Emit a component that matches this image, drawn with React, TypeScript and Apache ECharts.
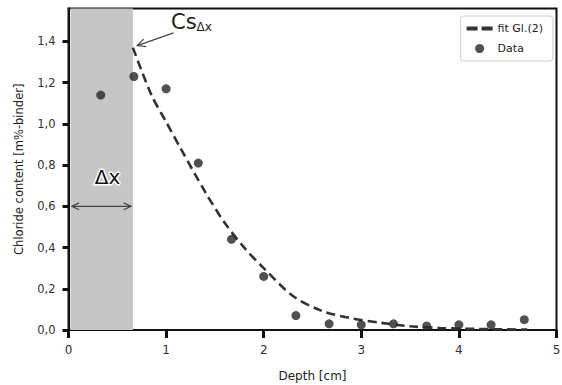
import React, { useEffect, useRef } from "react";
import * as echarts from "echarts";

const dataX = [0.33, 0.67, 1.0, 1.33, 1.67, 2.0, 2.33, 2.67, 3.0, 3.33, 3.67, 4.0, 4.33, 4.67];
const dataY = [1.14, 1.23, 1.17, 0.81, 0.44, 0.26, 0.07, 0.03, 0.025, 0.03, 0.02, 0.025, 0.025, 0.05];

const fitX = [0.66, 0.85, 1.0, 1.15, 1.4, 1.6, 1.8, 2.0, 2.3, 2.6, 2.9, 3.2, 3.5, 3.8, 4.2, 4.7];
const fitY = [1.37, 1.14, 1.01, 0.88, 0.67, 0.52, 0.4, 0.3, 0.165, 0.092, 0.057, 0.035, 0.018, 0.01, 0.005, 0.002];

const yTicks = [0, 0.2, 0.4, 0.6, 0.8, 1.0, 1.2, 1.4];
const xMax = 5;
const bandEnd = 0.66;

const FONT = "DejaVu Sans";

export default function App() {
  const ref = useRef<HTMLDivElement>(null);
  useEffect(() => {
    document.body.style.margin = "0";
    const chart = echarts.init(ref.current!, undefined, { renderer: "svg" });
    chart.setOption({
      animation: false,
      backgroundColor: "#fff",
      textStyle: { fontFamily: FONT },
      grid: {
        left: 68.5,
        right: 5.5,
        top: 8.5,
        bottom: 55,
        outerBoundsMode: "none",
        containLabel: false,
        show: true,
        borderColor: "#111",
        borderWidth: 2,
      },
      legend: {
        orient: "vertical",
        right: 9,
        top: 16,
        backgroundColor: "#fff",
        borderColor: "#ccc",
        borderWidth: 1,
        borderRadius: 3,
        padding: [7, 10, 7, 6],
        itemGap: 9,
        itemWidth: 26,
        itemHeight: 9,
        textStyle: { fontSize: 11, color: "#222", fontFamily: FONT },
        data: [
          { name: "fit Gl.(2)", icon: "path://M0,0h11v4h-11z M15,0h11v4h-11z", itemStyle: { color: "#333" } },
          { name: "Data", icon: "circle" },
        ],
      },
      xAxis: {
        type: "value",
        min: 0,
        max: xMax,
        interval: 1,
        name: "Depth [cm]",
        nameLocation: "middle",
        nameGap: 40,
        nameTextStyle: { fontSize: 12, color: "#222" },
        axisLine: { show: true, lineStyle: { color: "#111", width: 2 } },
        axisTick: { show: true, length: 8, lineStyle: { color: "#111", width: 3 } },
        axisLabel: {
          fontSize: 12,
          color: "#333",
          margin: 14,
          showMinLabel: true,
          showMaxLabel: true,
        },
        splitLine: { show: false },
      },
      yAxis: {
        type: "value",
        min: 0,
        max: 1.56,
        name: "Chloride content [m%-binder]",
        nameLocation: "middle",
        nameGap: 44,
        nameRotate: 90,
        nameTextStyle: { fontSize: 11.5, color: "#222" },
        axisLine: { show: true, lineStyle: { color: "#111", width: 2 } },
        axisTick: {
          show: true,
          length: 6,
          customValues: yTicks,
          lineStyle: { color: "#111", width: 3 },
        },
        axisLabel: {
          fontSize: 11.5,
          color: "#333",
          margin: 13,
          customValues: yTicks,
          formatter: (v: number) => v.toFixed(1).replace(".", ","),
        },
        splitLine: { show: false },
      },
      series: [
        {
          name: "fit Gl.(2)",
          type: "line",
          data: fitX.map((x, i) => [x, fitY[i]]),
          smooth: 0.3,
          showSymbol: false,
          symbol: "none",
          z: 4,
          lineStyle: { color: "#333", width: 2.6, type: [9, 5] },
          itemStyle: { color: "#333" },
          markArea: {
            silent: true,
            itemStyle: { color: "#c6c6c6" },
            data: [[{ xAxis: 0.02 }, { xAxis: bandEnd }]],
          },
        },
        {
          name: "Data",
          type: "scatter",
          data: dataX.map((x, i) => [x, dataY[i]]),
          symbolSize: 9,
          z: 5,
          itemStyle: { color: "#262626" },
        },
      ],
    });

    const px = (x: number, y: number) => chart.convertToPixel({ gridIndex: 0 }, [x, y]) as number[];
    const head = (tip: number[], from: number[], len: number) => {
      const ang = Math.atan2(from[1] - tip[1], from[0] - tip[0]);
      const a1 = ang + 0.45;
      const a2 = ang - 0.45;
      return [
        [tip[0] + len * Math.cos(a1), tip[1] + len * Math.sin(a1)],
        tip,
        [tip[0] + len * Math.cos(a2), tip[1] + len * Math.sin(a2)],
      ];
    };
    const arrStyle = { stroke: "#444", lineWidth: 1.2, fill: "none" };
    const a0 = px(1.075, 1.442);
    const a1 = px(0.705, 1.38);
    const d0 = px(0.035, 0.6);
    const d1 = px(0.64, 0.6);
    const dxText = px(0.4, 0.74);
    const csText = px(1.05, 1.5);
    chart.setOption({
      graphic: [
        { type: "line", shape: { x1: a0[0], y1: a0[1], x2: a1[0], y2: a1[1] }, style: arrStyle, z: 10 },
        { type: "polyline", shape: { points: head(a1, a0, 9) }, style: arrStyle, z: 10 },
        { type: "line", shape: { x1: d0[0], y1: d0[1], x2: d1[0], y2: d1[1] }, style: arrStyle, z: 10 },
        { type: "polyline", shape: { points: head(d0, d1, 8) }, style: arrStyle, z: 10 },
        { type: "polyline", shape: { points: head(d1, d0, 8) }, style: arrStyle, z: 10 },
        {
          type: "text",
          x: dxText[0],
          y: dxText[1],
          z: 10,
          style: {
            text: "Δx",
            fontSize: 20,
            fontFamily: FONT,
            fill: "#111",
            stroke: "#fff",
            lineWidth: 3,
            align: "center",
            verticalAlign: "middle",
          },
        },
        {
          type: "text",
          x: csText[0],
          y: csText[1],
          z: 10,
          style: {
            text: "{a|Cs}{b|Δx}",
            fontFamily: FONT,
            align: "left",
            verticalAlign: "middle",
            rich: {
              a: { fontSize: 21, fill: "#222", fontFamily: FONT, verticalAlign: "bottom", lineHeight: 24 },
              b: { fontSize: 12, fill: "#222", fontFamily: FONT, verticalAlign: "bottom", lineHeight: 18 },
            },
          },
        },
      ],
    });
    return () => chart.dispose();
  }, []);
  return <div ref={ref} style={{ width: 562, height: 385 }} />;
}
